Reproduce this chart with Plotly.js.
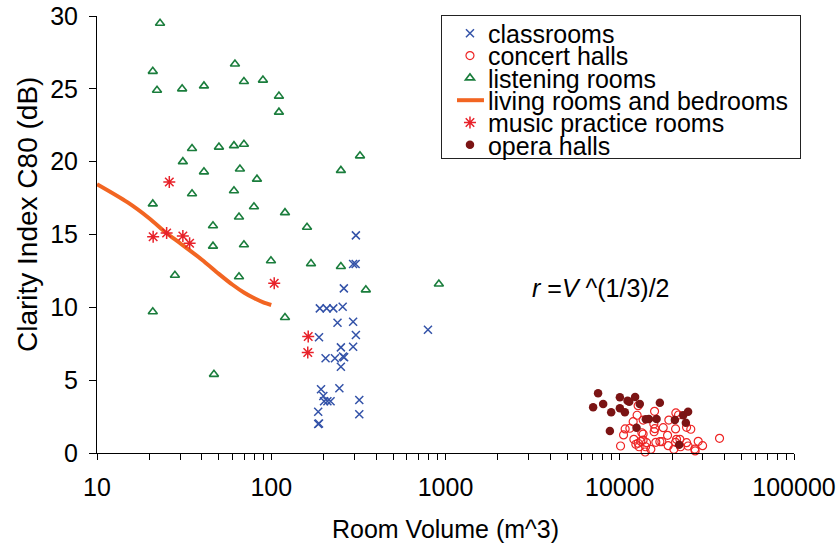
<!DOCTYPE html>
<html><head><meta charset="utf-8">
<script src="https://cdn.plot.ly/plotly-3.0.1.min.js"></script>
<style>html,body{margin:0;padding:0;background:#fff}#chart{width:839px;height:545px}</style>
</head><body><div id="chart"></div>
<script>
// ---- data (room volume in m^3, clarity C80 in dB) ----
const classroomsV = [306, 295, 305, 261, 190, 208, 227, 257, 240, 295, 306, 188, 251, 295, 205, 232, 262, 258, 251, 193, 246, 199, 201, 210, 219, 320, 186, 320, 186, 188, 793];
const classroomsC = [14.94, 12.97, 12.97, 11.30, 9.93, 9.93, 9.93, 10.04, 8.94, 9.01, 8.10, 7.94, 7.25, 7.30, 6.50, 6.50, 6.57, 6.62, 5.92, 4.37, 4.44, 3.91, 3.55, 3.55, 3.55, 3.64, 2.83, 2.66, 1.99, 2.02, 8.46];

const concertV = [10106, 10515, 10740, 11430, 11940, 12580, 12750, 12050, 12370, 12910, 12750, 13390, 13620, 13210, 13620, 14060, 13990, 14250, 15080, 13620, 15840, 15690, 15900, 15750, 16110, 16990, 17450, 17760, 18810, 18960, 19130, 20440, 20990, 21740, 20910, 20910, 21180, 22130, 22330, 24180, 24670, 24180, 25560, 26960, 27080, 28200, 29880, 37380];
const concertC = [0.48, 1.24, 1.65, 1.70, 2.15, 2.59, 3.25, 0.94, 0.60, 0.43, 0.67, 1.39, 1.30, 0.80, 0.89, 0.43, 0.07, 0.71, 0.25, 2.26, 2.86, 1.99, 1.67, 1.46, 0.73, 0.78, 0.78, 1.74, 1.21, 0.50, 2.26, 0.25, 2.75, 2.61, 1.65, 0.73, 0.94, 0.94, 0.43, 0.71, 0.48, 1.76, 1.63, 0.27, 0.14, 0.80, 0.50, 1.01];

const listeningV = [23.0, 20.9, 22.1, 30.8, 41.1, 61.9, 69.7, 89.6, 110.7, 110.7, 35.1, 50.1, 61.1, 69.7, 323, 31.1, 41.1, 66.1, 82.8, 251, 35.1, 61.1, 20.9, 79.6, 119.9, 46.3, 65.3, 160.4, 46.3, 69.7, 99.6, 169.1, 251, 349, 916, 28.0, 65.3, 20.9, 119.9, 46.9];
const listeningC = [29.5, 26.2, 24.9, 25.0, 25.2, 26.7, 25.5, 25.6, 24.5, 23.4, 20.9, 21.0, 21.1, 21.2, 20.4, 20.0, 19.3, 19.5, 18.8, 19.4, 17.8, 18.0, 17.1, 16.9, 16.5, 15.6, 16.2, 15.5, 14.2, 14.3, 13.2, 13.0, 12.8, 11.2, 11.6, 12.2, 12.1, 9.7, 9.3, 5.4];

const livingV = [10, 15, 20, 25, 30, 40, 50, 60, 70, 80, 90, 100];
const livingC = [18.45, 17.2, 16.1, 15.1, 14.4, 13.27, 12.3, 11.55, 11.0, 10.62, 10.34, 10.16];

const practiceV = [26.0, 21.0, 25.1, 31.1, 34.0, 104, 163, 162];
const practiceC = [18.6, 14.85, 15.1, 14.9, 14.4, 11.65, 8.0, 6.9];

const operaV = [7034, 7510, 8031, 8776, 8928, 10016, 10016, 10700, 11089, 11330, 12250, 12480, 13030, 14120, 14690, 16260, 16990, 20720, 21930, 23120, 23950, 24670];
const operaC = [3.14, 4.10, 3.36, 1.51, 2.79, 3.82, 3.07, 2.79, 3.59, 3.52, 3.84, 1.74, 3.36, 2.31, 2.33, 2.33, 3.45, 2.26, 0.57, 2.59, 2.08, 2.83];

const seriesNames = ['classrooms', 'concert halls', 'listening rooms', 'living rooms and bedrooms', 'music practice rooms', 'opera halls'];
const xDecades = [10, 100, 1000, 10000, 100000];
const xDecadeLabels = ['10', '100', '1000', '10000', '100000'];
const yTicks = [0, 5, 10, 15, 20, 25, 30];

// tick positions: every digit in each decade, labels only on decades
const xTickVals = [], xTickText = [];
for (let d = 10; d < 100000; d *= 10) {
  for (let k = 1; k <= 9; k++) {
    const v = d * k;
    xTickVals.push(v);
    const idx = xDecades.indexOf(v);
    xTickText.push(idx >= 0 ? xDecadeLabels[idx] : '');
  }
}
xTickVals.push(100000); xTickText.push('100000');

const traces = [
  {type:'scatter', mode:'markers', name:seriesNames[0], x:classroomsV, y:classroomsC, cliponaxis:false,
   marker:{symbol:'x-thin-open', size:8, color:'#3352A8', line:{width:1.5, color:'#3352A8'}}},
  {type:'scatter', mode:'markers', name:seriesNames[1], x:concertV, y:concertC, cliponaxis:false,
   marker:{symbol:'circle-open', size:8, color:'#EE2424', line:{width:1.2, color:'#EE2424'}}},
  {type:'scatter', mode:'markers', name:seriesNames[2], x:listeningV, y:listeningC, cliponaxis:false,
   marker:{symbol:'triangle-up-open', size:8, color:'#1A7D3C', line:{width:1.6, color:'#1A7D3C'}}},
  {type:'scatter', mode:'lines', name:seriesNames[3], x:livingV, y:livingC, cliponaxis:false,
   line:{color:'#F26522', width:4, shape:'spline', smoothing:0.8}},
  {type:'scatter', mode:'markers', name:seriesNames[4], x:practiceV, y:practiceC, cliponaxis:false,
   marker:{symbol:'asterisk-open', size:10, color:'#E8222A', line:{width:1.5, color:'#E8222A'}}},
  {type:'scatter', mode:'markers', name:seriesNames[5], x:operaV, y:operaC, cliponaxis:false,
   marker:{symbol:'circle', size:8.5, color:'#7B1414', line:{width:0}}}
];

const FONT = 'Arial, "Liberation Sans", sans-serif';
const layout = {
  width:839, height:545,
  margin:{l:97, r:45, t:16, b:92},
  paper_bgcolor:'white', plot_bgcolor:'white',
  font:{family:FONT, size:25, color:'black'},
  showlegend:true,
  xaxis:{type:'log', range:[1,5], tickmode:'array', tickvals:xTickVals, ticktext:xTickText,
    ticks:'outside', ticklen:6, tickwidth:1, tickcolor:'black',
    showline:true, linecolor:'black', linewidth:1, showgrid:false, zeroline:false,
    tickfont:{size:25}, ticklabelstandoff:6,
    title:{text:'Room Volume (m^3)', font:{size:25}, standoff:20}},
  yaxis:{range:[0,30], tickmode:'array', tickvals:yTicks, ticks:'outside', ticklen:7, tickwidth:1, tickcolor:'black',
    showline:true, linecolor:'black', linewidth:1, showgrid:false, zeroline:false,
    tickfont:{size:25}, ticklabelstandoff:6},
  legend:{x:0.4935, y:1.0023, xanchor:'left', yanchor:'top', bgcolor:'white', bordercolor:'#222', borderwidth:1,
    font:{size:25, family:FONT}, itemwidth:36, traceorder:'normal'},
  annotations:[
    {xref:'paper', yref:'paper', x:0.6212, y:0.3776, xanchor:'left', yanchor:'middle', showarrow:false,
     text:'<i>r</i> =<i>V</i> ^(1/3)/2', font:{size:25, family:FONT, color:'black'}},
    {xref:'paper', yref:'paper', x:-0.1004, y:0.5446, xanchor:'center', yanchor:'middle', showarrow:false,
     textangle:-90, text:'Clarity Index C80 (dB)', font:{size:28, family:FONT, color:'black'}}
  ]
};

Plotly.newPlot('chart', traces, layout, {staticPlot:true, displayModeBar:false}).then(gd => {
  // tighten legend row spacing to match the reference
  const leg = gd.querySelector('.legend');
  if (!leg) return;
  const items = leg.querySelectorAll('.traces');
  const top = 18.3, step = 22.3;
  items.forEach((g, i) => {
    const m = /translate\(\s*([-\d.]+)[ ,]+([-\d.]+)\s*\)/.exec(g.getAttribute('transform') || '');
    const tx = m ? parseFloat(m[1]) : 0;
    g.setAttribute('transform', 'translate(' + tx + ',' + (top + i * step) + ')');
    g.querySelectorAll('.legendpoints').forEach(p => p.setAttribute('transform', 'translate(5,0)'));
    g.querySelectorAll('.legendlines path').forEach(p => p.setAttribute('d', 'M15,0h27'));
  });
  const bg = leg.querySelector('rect.bg');
  if (bg) { bg.setAttribute('height', 143); bg.setAttribute('width', 359); }
});
</script>
</body></html>
